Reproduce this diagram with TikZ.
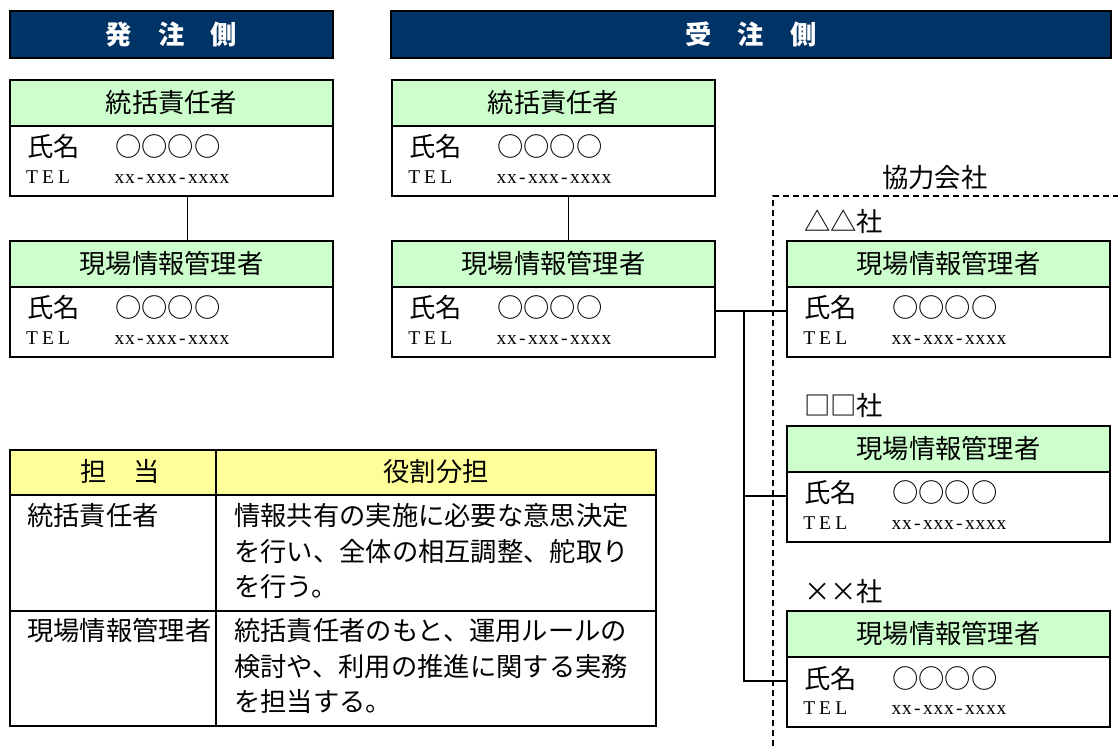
\documentclass[tikz,border=0pt]{standalone}
\usepackage{fontspec}
\usepackage{graphicx}
\setmainfont{Noto Sans CJK JP}
\newfontfamily\telfont{Liberation Serif}
\usetikzlibrary{calc}
\definecolor{navy}{HTML}{003366}
\definecolor{hgreen}{HTML}{CCFFCC}
\definecolor{hyellow}{HTML}{FFFF99}
\newcommand\mx[1]{\makebox[10.5pt]{#1}}
\newcommand\my[1]{\makebox[16pt]{#1}}
\newcommand\telno{\mx{x}\mx{x}\mx{-}\mx{x}\mx{x}\mx{x}\mx{-}\mx{x}\mx{x}\mx{x}\mx{x}}
\newcommand\mkcard[4]{%
  \node[chead, anchor=north west] (#1h) at (#2,#3) {#4};
  \node[cbody, anchor=north west] (#1b) at (#1h.south west) {};
  \node[jp, anchor=west] (#1n) at ($(#1b.north west)+(17,21)$) {氏名};
  \node[jp, anchor=west] (#1c) at ($(#1b.north west)+(105,21)$) {○○○○};
  \node[tel, anchor=base west] (#1t) at ($(#1b.north west)+(14,57)$) {\my{T}\my{E}\my{L}};
  \node[tel, anchor=base west] (#1x) at ($(#1b.north west)+(104,57)$) {\telno};
}
\begin{document}
\begin{tikzpicture}[
  x=1pt, y=-1pt,
  box/.style={draw, line width=1.5pt, inner sep=0pt, outer sep=0pt},
  hdr/.style={box, fill=navy, text=white, minimum height=47pt, anchor=north west,
    font=\fontsize{26.3}{30}\selectfont\bfseries},
  chead/.style={box, fill=hgreen, minimum width=323pt, minimum height=46pt,
    font=\fontsize{26.3}{30}\selectfont},
  cbody/.style={box, fill=white, minimum width=323pt, minimum height=70pt},
  jp/.style={inner sep=0pt, font=\fontsize{26.3}{30}\selectfont},
  tel/.style={inner sep=0pt, font=\telfont\fontsize{19.5}{22}\selectfont},
  conn/.style={line width=1.6pt},
  cell/.style={box, anchor=north west},
  lbl/.style={jp, anchor=west},
]
\fill[white] (0,0) rectangle (1118,746);
\useasboundingbox (0,0) rectangle (1118,746);

% headers
\node[hdr, minimum width=323pt] (h1) at (10,11) {発　注　側};
\node[hdr, minimum width=720pt] (h2) at (391,11) {受　注　側};

% partner frame
\draw[line width=1.2pt, dash pattern=on 6pt off 4pt] (773,746) -- (773,196) -- (1118,196);
\node[lbl] (kyo) at (882,178) {協力会社};

% cards
\mkcard{c1}{10}{80}{統括責任者}
\mkcard{c2}{10}{241}{現場情報管理者}
\mkcard{r1}{392}{80}{統括責任者}
\mkcard{r2}{392}{241}{現場情報管理者}
\mkcard{p1}{787}{241}{現場情報管理者}
\mkcard{p2}{787}{426}{現場情報管理者}
\mkcard{p3}{787}{611}{現場情報管理者}

\node[lbl] (l1) at (804,222) {△△社};
\node[lbl] (l2) at (804,406) {□□社};
\node[lbl] (l3) at (804,591) {××社};

% connectors
\draw[conn] ([xshift=16pt]c1b.south) -- ([xshift=16pt]c2h.north);
\draw[conn] ([xshift=15pt]r1b.south) -- ([xshift=15pt]r2h.north);
\draw[conn] ([yshift=11pt]r2b.east) -- ([yshift=11pt]p1b.west);
\coordinate (jn) at (744,311.5);
\draw[conn] (jn) |- ([yshift=11pt]p2b.west);
\draw[conn] (jn) |- ([yshift=11pt]p3b.west);

% table
\node[cell, fill=hyellow, minimum width=206pt, minimum height=45pt] (th1) at (10,450) {};
\node[cell, fill=hyellow, minimum width=440pt, minimum height=45pt] (th2) at (216,450) {};
\node[cell, minimum width=206pt, minimum height=116pt] (ra1) at (10,495) {};
\node[cell, minimum width=440pt, minimum height=116pt] (rb1) at (216,495) {};
\node[cell, minimum width=206pt, minimum height=115pt] (ra2) at (10,611) {};
\node[cell, minimum width=440pt, minimum height=115pt] (rb2) at (216,611) {};

\node[jp] (tt1) at (120,472) {担　当};
\node[jp] (tt2) at (436,472) {役割分担};
\node[lbl] (a1) at (27,516) {統括責任者};
\node[lbl] (b11) at (234,516) {情報共有の実施に必要な意思決定};
\node[lbl] (b12) at (234,551.5) {を行い、全体の相互調整、舵取り};
\node[lbl] (b13) at (234,587) {を行う。};
\node[lbl] (a2) at (27,631) {現場情報管理者};
\node[lbl] (b21) at (234,631) {統括責任者のもと、運用ルールの};
\node[lbl] (b22) at (234,666.5) {検討や、利用の推進に関する実務};
\node[lbl] (b23) at (234,702) {を担当する。};
\end{tikzpicture}
\end{document}
